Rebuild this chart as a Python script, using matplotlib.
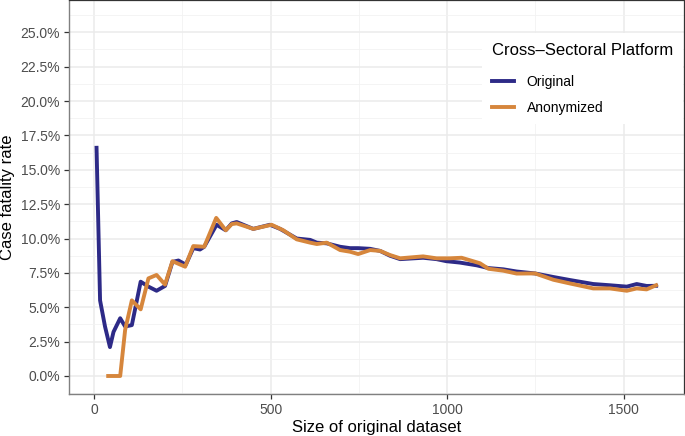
import matplotlib
matplotlib.use("Agg")
import matplotlib.pyplot as plt
from matplotlib.ticker import MultipleLocator, FuncFormatter

# data (x = dataset size, y = case fatality rate in %)
x_orig = [7, 17, 31, 45, 55, 74, 88, 107, 132, 154, 177, 201, 222, 239, 260,
          281, 300, 312, 347, 373, 390, 404, 451, 498, 527, 574, 612, 631,
          659, 697, 725, 748, 782, 810, 838, 867, 932, 970, 998, 1036, 1084,
          1117, 1159, 1197, 1249, 1301, 1348, 1414, 1461, 1509, 1537, 1565, 1592]
orig = [16.6, 5.5, 3.6, 2.1, 3.2, 4.2, 3.6, 3.7, 6.86, 6.5, 6.2, 6.55, 8.3,
        8.4, 8.1, 9.3, 9.2, 9.4, 11.0, 10.6, 11.1, 11.2, 10.7, 11.0, 10.7,
        10.0, 9.9, 9.7, 9.65, 9.4, 9.3, 9.3, 9.25, 9.1, 8.75, 8.5, 8.6, 8.5,
        8.35, 8.25, 8.05, 7.85, 7.76, 7.6, 7.46, 7.2, 6.98, 6.69, 6.6, 6.5,
        6.69, 6.55, 6.56]

x_anon = [40, 74, 88, 107, 132, 154, 177, 201, 222, 258, 281, 312, 346, 373,
          390, 404, 451, 503, 536, 574, 612, 631, 659, 697, 725, 748, 782,
          810, 838, 867, 932, 970, 1008, 1041, 1093, 1117, 1159, 1197, 1249,
          1301, 1348, 1414, 1461, 1509, 1537, 1565, 1592]
anon = [0, 0, 3.35, 5.5, 4.85, 7.1, 7.35, 6.65, 8.35, 7.95, 9.45, 9.4, 11.5,
        10.6, 11.05, 11.1, 10.7, 11.0, 10.6, 9.94, 9.7, 9.6, 9.7, 9.16, 9.04,
        8.87, 9.16, 9.1, 8.8, 8.56, 8.7, 8.56, 8.56, 8.6, 8.2, 7.8, 7.66,
        7.45, 7.46, 7.0, 6.73, 6.37, 6.37, 6.2, 6.37, 6.3, 6.6]

plt.rcParams['font.family'] = ['Liberation Sans', 'DejaVu Sans']

fig = plt.figure(figsize=(6.85, 4.36), dpi=100)
ax = fig.add_axes([69/685, 42/436, 615/685, 394/436])

ax.plot(x_orig, [v/100 for v in orig], color='#2D2A87', lw=2.8,
        label='Original', solid_joinstyle='round', zorder=3)
ax.plot(x_anon, [v/100 for v in anon], color='#D6863C', lw=2.8,
        label='Anonymized', solid_joinstyle='round', zorder=4)

ax.set_xlim(-71, 1671)
ax.set_ylim(-0.0131, 0.2735)

ax.xaxis.set_major_locator(MultipleLocator(500))
ax.xaxis.set_minor_locator(MultipleLocator(250))
ax.yaxis.set_major_locator(MultipleLocator(0.025))
ax.yaxis.set_minor_locator(MultipleLocator(0.0125))
ax.yaxis.set_major_formatter(FuncFormatter(lambda v, p: f"{v*100:.1f}%"))
ax.set_ylim(-0.0131, 0.2735)

ax.grid(which='major', color='#EBEBEB', lw=1.1)
ax.grid(which='minor', color='#F2F2F2', lw=0.6)
ax.set_axisbelow(True)

ax.tick_params(which='major', length=3.5, width=0.9, color='#333333',
               labelcolor='#4D4D4D', labelsize=10, pad=3)
ax.tick_params(which='minor', length=0)
for s in ['top', 'right']:
    ax.spines[s].set_color('#333333')
    ax.spines[s].set_linewidth(0.9)
for s in ['left', 'bottom']:
    ax.spines[s].set_color('#808080')
    ax.spines[s].set_linewidth(1.0)

ax.set_xlabel('Size of original dataset', fontsize=12, labelpad=2)
ax.set_ylabel('Case fatality rate', fontsize=12, labelpad=4)

leg = ax.legend(title='Cross\u2013Sectoral Platform', loc='upper right',
                bbox_to_anchor=(0.998, 0.915), borderaxespad=0, frameon=True,
                fancybox=False, edgecolor='none', facecolor='white',
                framealpha=1, fontsize=10, title_fontsize=12,
                handlelength=1.6, handletextpad=0.9, labelspacing=0.85,
                alignment='left', borderpad=0.7)
leg._legend_box.sep = 12  # a bit more room under the title
for line in leg.get_lines():
    line.set_linewidth(2.8)

fig.savefig('out.png', dpi=100)
